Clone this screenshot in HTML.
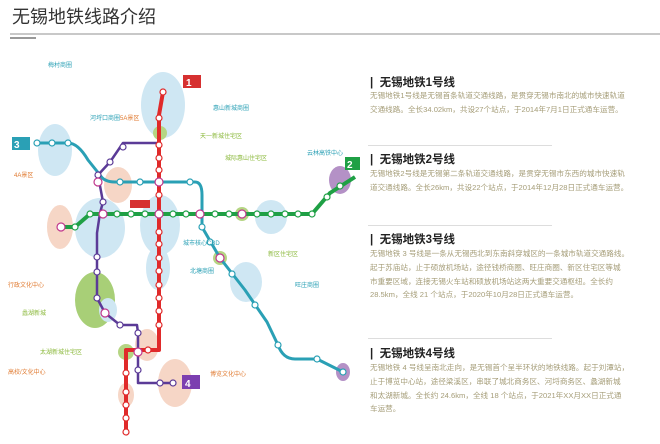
<!DOCTYPE html>
<html><head><meta charset="utf-8"><style>
body{margin:0;width:660px;height:444px;background:#fff;overflow:hidden;position:relative;font-family:"Liberation Sans","Noto Sans CJK SC",sans-serif}
.t{position:absolute;left:12px;top:3px;font-size:18px;color:#333}
.hr{position:absolute;left:10px;top:33px;width:650px;height:2px;background:#c8c8c8}
.hb{position:absolute;left:10px;top:37px;width:26px;height:2px;background:#999}
.h{position:absolute;left:370px;font-size:11.5px;font-weight:bold;color:#222;white-space:nowrap}
.p{position:absolute;left:370px;font-size:7.6px;line-height:13.8px;color:#a59d78;white-space:nowrap}
.s{position:absolute;left:368px;width:184px;height:1px;background:#ddd}
svg{position:absolute;left:0;top:0}
svg text{font-family:"Liberation Sans","Noto Sans CJK SC",sans-serif}
</style></head><body>
<div class="t">无锡地铁线路介绍</div>
<div class="hr"></div><div class="hb"></div>
<svg width="360" height="444" viewBox="0 0 360 444">
<g opacity="0.75">
<ellipse cx="163" cy="105" rx="22" ry="33" fill="#bfdff0"/>
<ellipse cx="55" cy="150" rx="17" ry="26" fill="#bfdff0"/>
<ellipse cx="118" cy="185" rx="14" ry="18" fill="#f3c9b4"/>
<ellipse cx="100" cy="228" rx="25" ry="30" fill="#bfdff0"/>
<ellipse cx="160" cy="225" rx="20" ry="30" fill="#bfdff0"/>
<ellipse cx="158" cy="268" rx="12" ry="22" fill="#bfdff0"/>
<ellipse cx="60" cy="227" rx="13" ry="22" fill="#f3c9b4"/>
<ellipse cx="271" cy="217" rx="16" ry="17" fill="#bfdff0"/>
<ellipse cx="246" cy="282" rx="16" ry="20" fill="#bfdff0"/>
<ellipse cx="95" cy="300" rx="20" ry="28" fill="#8cc04a"/>
<ellipse cx="108" cy="310" rx="9" ry="12" fill="#bfdff0"/>
<ellipse cx="147" cy="345" rx="12" ry="16" fill="#f3c9b4"/>
<ellipse cx="175" cy="383" rx="17" ry="24" fill="#f3c9b4"/>
<ellipse cx="126" cy="395" rx="8" ry="12" fill="#f3c9b4"/>
<ellipse cx="340" cy="180" rx="11" ry="14" fill="#9b6db3"/>
<ellipse cx="343" cy="372" rx="7" ry="9" fill="#9b6db3"/>
<circle cx="160" cy="133" r="7" fill="#9dc75a"/>
<circle cx="242" cy="214" r="7" fill="#9dc75a"/>
<circle cx="220" cy="258" r="7" fill="#9dc75a"/>
<circle cx="126" cy="352" r="8" fill="#9dc75a"/>
</g>
<g fill="none" stroke-linejoin="round">
<path d="M37 143 H68 Q78 143 88 160 L100 175 Q104 182 115 182 H195 Q202 182 202 195 V227 L220 258 L245 290 L267 322 L278 345 Q283 359 295 359 H317 L343 372" stroke="#2aa0b5" stroke-width="3"/>
<path d="M160 143 H123 L110 162 L98 175 L103 202 L100 213 L97 233 V298 L105 313 L120 325 H137 L138 333 V383 H173" stroke="#5b3b97" stroke-width="2.5"/>
<path d="M62 227 H75 L90 214 H312 L330 193 L355 177" stroke="#1fa045" stroke-width="4"/>
<path d="M163 92 L159 115 V350 H126 V432" stroke="#e02a2a" stroke-width="4"/>
</g>
<g stroke-width="1.2" fill="#fff">
<g stroke="#2aa0b5"><circle cx="37" cy="143" r="3"/><circle cx="52" cy="143" r="3"/><circle cx="68" cy="143" r="3"/><circle cx="120" cy="182" r="3"/><circle cx="140" cy="182" r="3"/><circle cx="190" cy="182" r="3"/><circle cx="202" cy="227" r="3"/><circle cx="210" cy="242" r="3"/><circle cx="232" cy="274" r="3"/><circle cx="255" cy="305" r="3"/><circle cx="278" cy="345" r="3"/><circle cx="317" cy="359" r="3"/><circle cx="343" cy="372" r="3"/></g>
<g stroke="#5b3b97"><circle cx="123" cy="147" r="3"/><circle cx="110" cy="162" r="3"/><circle cx="98" cy="175" r="3"/><circle cx="103" cy="202" r="3"/><circle cx="97" cy="257" r="3"/><circle cx="97" cy="272" r="3"/><circle cx="97" cy="298" r="3"/><circle cx="120" cy="325" r="3"/><circle cx="138" cy="333" r="3"/><circle cx="138" cy="370" r="3"/><circle cx="160" cy="383" r="3"/><circle cx="173" cy="383" r="3"/></g>
<g stroke="#1fa045"><circle cx="75" cy="227" r="3"/><circle cx="90" cy="214" r="3"/><circle cx="117" cy="214" r="3"/><circle cx="131" cy="214" r="3"/><circle cx="145" cy="214" r="3"/><circle cx="173" cy="214" r="3"/><circle cx="186" cy="214" r="3"/><circle cx="200" cy="214" r="3"/><circle cx="215" cy="214" r="3"/><circle cx="229" cy="214" r="3"/><circle cx="257" cy="214" r="3"/><circle cx="271" cy="214" r="3"/><circle cx="285" cy="214" r="3"/><circle cx="298" cy="214" r="3"/><circle cx="312" cy="214" r="3"/><circle cx="327" cy="197" r="3"/><circle cx="340" cy="186" r="3"/></g>
<g stroke="#e02a2a"><circle cx="163" cy="92" r="3"/><circle cx="159" cy="118" r="3"/><circle cx="159" cy="145" r="3"/><circle cx="159" cy="158" r="3"/><circle cx="159" cy="170" r="3"/><circle cx="159" cy="195" r="3"/><circle cx="159" cy="232" r="3"/><circle cx="159" cy="244" r="3"/><circle cx="159" cy="258" r="3"/><circle cx="159" cy="271" r="3"/><circle cx="159" cy="285" r="3"/><circle cx="159" cy="298" r="3"/><circle cx="159" cy="311" r="3"/><circle cx="159" cy="325" r="3"/><circle cx="148" cy="350" r="3"/><circle cx="126" cy="373" r="3"/><circle cx="126" cy="392" r="3"/><circle cx="126" cy="405" r="3"/><circle cx="126" cy="418" r="3"/><circle cx="126" cy="432" r="3"/></g>
<g stroke="#c0398d"><circle cx="159" cy="182" r="4"/><circle cx="159" cy="214" r="4"/><circle cx="98" cy="182" r="4"/><circle cx="200" cy="214" r="4"/><circle cx="61" cy="227" r="4"/><circle cx="103" cy="214" r="4"/><circle cx="220" cy="258" r="4"/><circle cx="105" cy="313" r="4"/><circle cx="138" cy="352" r="4"/><circle cx="242" cy="214" r="4"/></g>
</g>
<rect x="183" y="75" width="18" height="13" fill="#d63030"/><text x="186" y="86" font-size="10" fill="#fff" font-weight="bold">1</text>
<rect x="12" y="137" width="18" height="13" fill="#2aa0b5"/><text x="14" y="148" font-size="10" fill="#fff" font-weight="bold">3</text>
<rect x="345" y="157" width="15" height="13" fill="#1fa045"/><text x="347" y="168" font-size="10" fill="#fff" font-weight="bold">2</text>
<rect x="182" y="375" width="18" height="14" fill="#7c3fb0"/><text x="185" y="387" font-size="10" fill="#fff" font-weight="bold">4</text>
<rect x="130" y="200" width="20" height="8" fill="#d63030"/>
<g font-size="6">
<text x="48" y="67" fill="#2aa0b5">梅村商圈</text>
<text x="90" y="120" fill="#2aa0b5">河埒口商圈</text>
<text x="120" y="120" fill="#e07a30">5A景区</text>
<text x="213" y="110" fill="#2aa0b5">惠山新城商圈</text>
<text x="200" y="138" fill="#8ab83a">天一新城住宅区</text>
<text x="225" y="160" fill="#8ab83a">城际惠山住宅区</text>
<text x="307" y="155" fill="#2aa0b5">云林高铁中心</text>
<text x="14" y="177" fill="#e07a30">4A景区</text>
<text x="183" y="245" fill="#2aa0b5">城市核心CBD</text>
<text x="190" y="273" fill="#2aa0b5">北塘商圈</text>
<text x="268" y="256" fill="#8ab83a">新区住宅区</text>
<text x="295" y="287" fill="#2aa0b5">旺庄商圈</text>
<text x="8" y="287" fill="#e07a30">行政文化中心</text>
<text x="22" y="315" fill="#8ab83a">蠡湖新城</text>
<text x="40" y="354" fill="#8ab83a">太湖新城住宅区</text>
<text x="8" y="374" fill="#e07a30">高校/文化中心</text>
<text x="210" y="376" fill="#e07a30">博览文化中心</text>
</g>
</svg>
<div class="h" style="top:74px">|&nbsp; 无锡地铁1号线</div>
<div class="p" style="top:89px">无锡地铁1号线是无锡首条轨道交通线路，是贯穿无锡市南北的城市快速轨道<br>交通线路。全长34.02km，共设27个站点，于2014年7月1日正式通车运营。</div>
<div class="s" style="top:145px"></div>
<div class="h" style="top:151px">|&nbsp; 无锡地铁2号线</div>
<div class="p" style="top:167px">无锡地铁2号线是无锡第二条轨道交通线路，是贯穿无锡市东西的城市快速轨<br>道交通线路。全长26km，共设22个站点，于2014年12月28日正式通车运营。</div>
<div class="s" style="top:225px"></div>
<div class="h" style="top:231px">|&nbsp; 无锡地铁3号线</div>
<div class="p" style="top:247px">无锡地铁 3 号线是一条从无锡西北到东南斜穿城区的一条城市轨道交通路线。<br>起于苏庙站，止于硕放机场站，途径钱桥商圈、旺庄商圈、新区住宅区等城<br>市重要区域，连接无锡火车站和硕放机场站这两大重要交通枢纽。全长约<br>28.5km，全线 21 个站点，于2020年10月28日正式通车运营。</div>
<div class="s" style="top:338px"></div>
<div class="h" style="top:345px">|&nbsp; 无锡地铁4号线</div>
<div class="p" style="top:361px">无锡地铁 4 号线呈南北走向，是无锡首个呈半环状的地铁线路。起于刘潭站，<br>止于博览中心站，途径梁溪区，串联了城北商务区、河埒商务区、蠡湖新城<br>和太湖新城。全长约 24.6km，全线 18 个站点，于2021年XX月XX日正式通<br>车运营。</div>
</body></html>
